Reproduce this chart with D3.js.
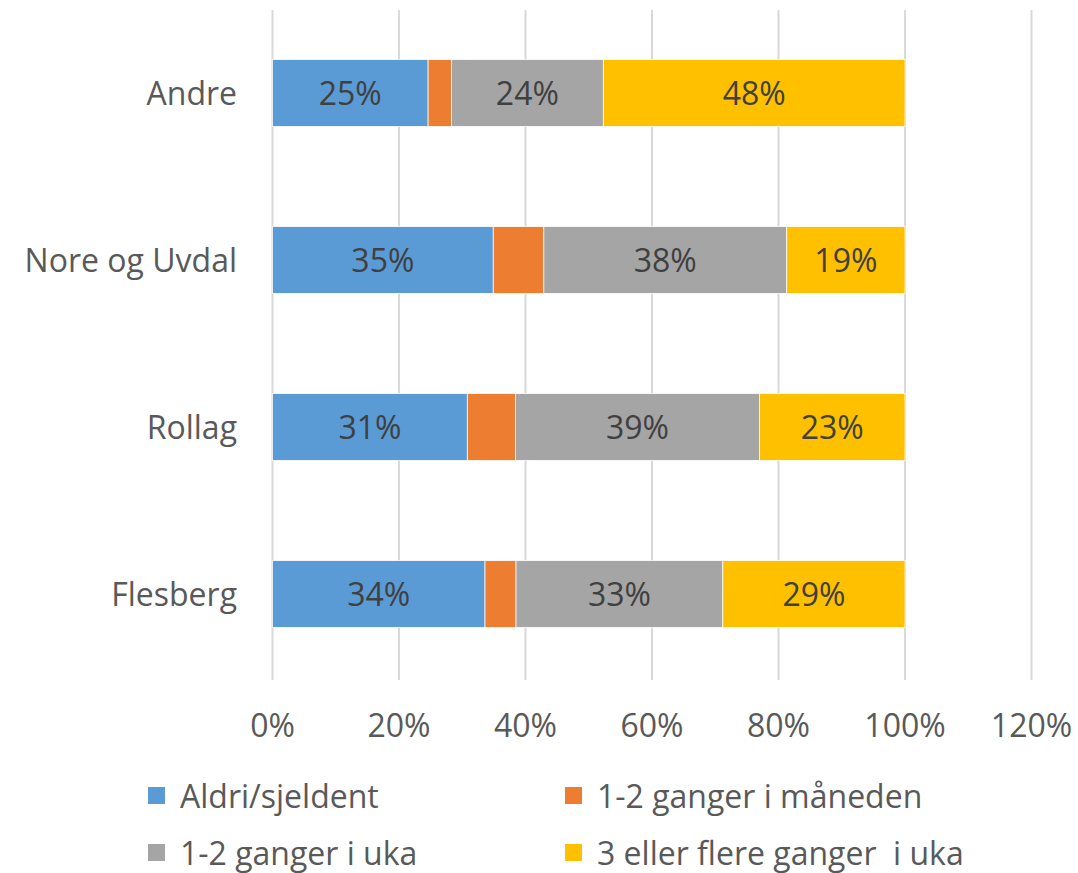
<!DOCTYPE html>
<html>
<head>
<meta charset="utf-8">
<script src="https://cdn.jsdelivr.net/npm/d3@7"></script>
<style>
  body { margin: 0; background: #fff; }
  svg { display: block; }
  text { font-family: "Open Sans", sans-serif; white-space: pre; }
</style>
</head>
<body>
<div id="chart"></div>
<script>
// categories, bottom to top as in the spreadsheet
const categories = ["Flesberg", "Rollag", "Nore og Uvdal", "Andre"];
const seriesNames = ["Aldri/sjeldent", "1-2 ganger i måneden", "1-2 ganger i uka", "3 eller flere ganger  i uka"];
const seriesColors = ["#5b9bd5", "#ed7d31", "#a5a5a5", "#ffc000"];

// shares per series, same order as categories
const aldri = [0.336, 0.308, 0.349, 0.246];
const maaned = [0.049, 0.076, 0.080, 0.037];
const uka = [0.327, 0.386, 0.384, 0.240];
const flere = [0.288, 0.230, 0.187, 0.477];

const ticks = [0, 0.2, 0.4, 0.6, 0.8, 1.0, 1.2];

const width = 1078, height = 873;

const svg = d3.select("#chart").append("svg")
    .attr("width", width)
    .attr("height", height);

const x = d3.scaleLinear().domain([0, 1.2]).range([272.5, 1031.5]);
const y = d3.scaleBand()
    .domain(categories.slice().reverse())
    .range([9.5, 677.5])
    .paddingInner(0.6)
    .paddingOuter(0.3);

// grid lines
svg.append("g")
    .selectAll("line")
    .data(ticks)
    .join("line")
    .attr("x1", d => x(d))
    .attr("x2", d => x(d))
    .attr("y1", 10)
    .attr("y2", 680)
    .attr("stroke", "#d9d9d9")
    .attr("stroke-width", 2);

// stack the series
const rows = categories.map((c, i) => ({
    cat: c,
    s0: aldri[i], s1: maaned[i], s2: uka[i], s3: flere[i]
}));
const stack = d3.stack().keys(["s0", "s1", "s2", "s3"]);
const layers = stack(rows);

const fmt = d3.format(".0%");

layers.forEach((layer, k) => {
    const g = svg.append("g");
    g.selectAll("rect")
        .data(layer)
        .join("rect")
        .attr("x", d => x(d[0]))
        .attr("y", d => y(d.data.cat))
        .attr("width", d => x(d[1]) - x(d[0]))
        .attr("height", y.bandwidth())
        .attr("fill", seriesColors[k])
        .attr("stroke", "#fff")
        .attr("stroke-width", 0.75);

    // no labels on the thin orange segments
    if (k !== 1) {
        g.selectAll("text")
            .data(layer)
            .join("text")
            .attr("x", d => (x(d[0]) + x(d[1])) / 2)
            .attr("y", d => y(d.data.cat) + y.bandwidth() / 2)
            .attr("dy", "0.36em")
            .attr("text-anchor", "middle")
            .attr("font-size", 32)
            .attr("fill", "#404040")
            .text(d => fmt(d[1] - d[0]));
    }
});

// category labels
svg.append("g")
    .attr("text-anchor", "end")
    .selectAll("text")
    .data(categories)
    .join("text")
    .attr("x", 237)
    .attr("y", d => y(d) + y.bandwidth() / 2)
    .attr("dy", "0.36em")
    .attr("font-size", 32)
    .attr("fill", "#595959")
    .text(d => d);

// x tick labels
svg.append("g")
    .attr("text-anchor", "middle")
    .selectAll("text")
    .data(ticks)
    .join("text")
    .attr("x", d => x(d))
    .attr("y", 737)
    .attr("font-size", 32)
    .attr("fill", "#595959")
    .text(d => fmt(d));

// legend
const legendPos = [[148, 796], [565, 796], [148, 853], [565, 853]];
const legend = svg.append("g")
    .selectAll("g")
    .data(seriesNames)
    .join("g")
    .attr("transform", (d, i) => `translate(${legendPos[i][0]}, ${legendPos[i][1]})`);

legend.append("rect")
    .attr("x", 0)
    .attr("y", -9)
    .attr("width", 17)
    .attr("height", 17)
    .attr("fill", (d, i) => seriesColors[i]);

legend.append("text")
    .attr("x", 32)
    .attr("y", 0)
    .attr("dy", "0.36em")
    .attr("font-size", 32)
    .attr("fill", "#595959")
    .text(d => d);
</script>
</body>
</html>
